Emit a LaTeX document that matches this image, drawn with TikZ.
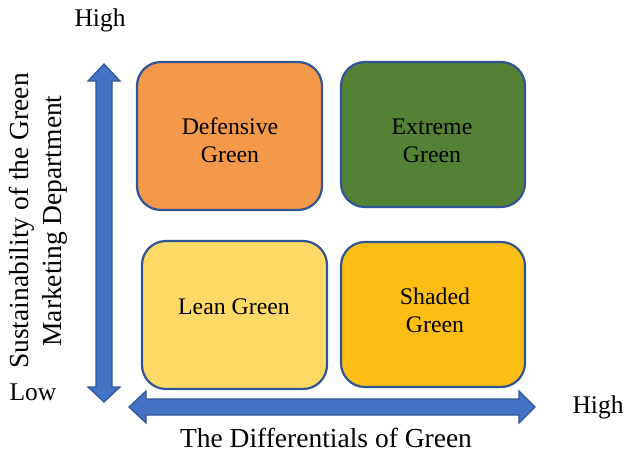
\documentclass[tikz,border=0pt]{standalone}
\usepackage{fontspec}
\setmainfont{Liberation Serif}
\definecolor{borderblue}{HTML}{2F5597}
\definecolor{arrowblue}{HTML}{4472C4}
\definecolor{orangebox}{HTML}{F4984A}
\definecolor{greenbox}{HTML}{548235}
\definecolor{leanbox}{HTML}{FFD966}
\definecolor{shadedbox}{HTML}{FDBE14}
\tikzset{
  quad/.style={draw=borderblue, line width=2.2pt, rounded corners=24pt},
  quadtext/.style={font=\fontsize{23.8}{28}\selectfont, align=center, text=black},
  axistext/.style={font=\fontsize{25.5}{33}\selectfont, align=center, text=black},
  bigaxistext/.style={font=\fontsize{27.5}{33}\selectfont, align=center, text=black},
  axisarrow/.style={fill=arrowblue, draw=borderblue, line width=1.2pt, line join=miter},
}
\begin{document}
\begin{tikzpicture}[x=1pt,y=-1pt]
\useasboundingbox (0,0) rectangle (626,452);
% boxes
\draw[quad, fill=orangebox] (137,62) rectangle (322,210);
\draw[quad, fill=greenbox] (341,62) rectangle (525,207);
\draw[quad, fill=leanbox] (142,241) rectangle (327,389);
\draw[quad, fill=shadedbox] (341,242) rectangle (525,387);
\node[quadtext] (def) at (230,140) {Defensive\\Green};
\node[quadtext] (ext) at (432,141) {Extreme\\Green};
\node[quadtext] (lean) at (234,307) {Lean Green};
\node[quadtext] (sha) at (435,310) {Shaded\\Green};
% vertical axis arrow
\draw[axisarrow] (104,64) -- (120,81) -- (112,81) -- (112,387) -- (120,387) -- (104,402)
  -- (88,387) -- (96,387) -- (96,81) -- (88,81) -- cycle;
% horizontal axis arrow
\draw[axisarrow] (129,407) -- (146,391) -- (146,399) -- (519,399) -- (519,391) -- (535,407)
  -- (519,423) -- (519,415) -- (146,415) -- (146,423) -- cycle;
% labels
\node[axistext] (hightop) at (100,20) {High};
\node[axistext] (low) at (33,392) {Low};
\node[axistext] (highright) at (598,407) {High};
\node[bigaxistext] (xlabel) at (326,438) {The Differentials of Green};
\node[bigaxistext, rotate=90] (ylabel) at (38,221) {Sustainability of the Green\\Marketing Department};
\end{tikzpicture}
\end{document}
